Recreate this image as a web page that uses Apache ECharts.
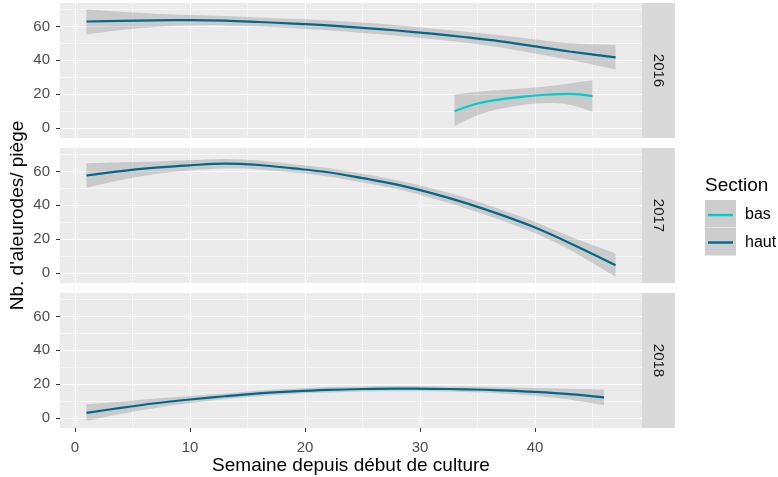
<!DOCTYPE html>
<html>
<head>
<meta charset="utf-8">
<script src="https://cdn.jsdelivr.net/npm/echarts@6/dist/echarts.min.js"></script>
<style>
  html, body { margin: 0; padding: 0; background: #ffffff; }
  #chart { width: 778px; height: 477px; }
</style>
</head>
<body>
<div id="chart"></div>
<script>
// Weeks at which the smoothed curves are sampled
const weeksLong = [1, 4, 7, 10, 13, 16, 19, 22, 25, 28, 31, 34, 37, 40, 43, 47];
const weeks2018 = [1, 4, 7, 10, 13, 16, 19, 22, 25, 28, 31, 34, 37, 40, 43, 46];
const weeksBas = [33, 35, 37, 39, 41, 43, 45];

// 2016 - haut
const haut2016 = [62.9, 63.3, 63.6, 63.7, 63.4, 62.6, 61.7, 60.6, 59.2, 57.6, 55.7, 53.6, 51.2, 48.2, 45.2, 41.7];
const haut2016Low = [55.3, 57.9, 59.7, 60.6, 60.6, 59.9, 58.9, 57.7, 56.1, 54.5, 52.6, 50.3, 47.6, 44.0, 40.3, 34.6];
const haut2016High = [70.2, 68.7, 67.5, 66.8, 66.2, 65.3, 64.5, 63.5, 62.3, 60.7, 58.8, 56.9, 54.8, 52.3, 50.1, 49.2];

// 2016 - bas
const bas2016 = [10.0, 14.5, 17.0, 18.6, 19.7, 20.2, 18.9];
const bas2016Low = [1.2, 7.6, 11.5, 13.8, 14.8, 13.8, 9.6];
const bas2016High = [19.8, 21.4, 22.5, 23.4, 24.6, 26.4, 28.2];

// 2017 - haut
const haut2017 = [57.6, 60.2, 62.2, 63.6, 64.6, 63.8, 61.8, 59.5, 56.0, 52.2, 47.2, 41.3, 34.5, 26.9, 17.8, 4.7];
const haut2017Low = [50.4, 55.0, 58.5, 60.6, 61.8, 61.2, 59.3, 57.0, 53.4, 49.6, 44.3, 38.2, 31.4, 23.5, 13.9, -2.2];
const haut2017High = [64.8, 65.4, 65.9, 66.6, 67.4, 66.4, 64.3, 62.0, 58.6, 54.8, 50.1, 44.4, 37.6, 30.3, 21.7, 11.6];

// 2018 - haut
const haut2018 = [3.1, 6.1, 8.8, 11.0, 12.9, 14.6, 15.8, 16.7, 17.2, 17.4, 17.3, 17.0, 16.4, 15.5, 14.2, 12.2];
const haut2018Low = [-1.6, 2.5, 6.0, 8.9, 11.2, 12.9, 14.3, 15.1, 15.7, 15.9, 15.8, 15.4, 14.6, 13.2, 11.0, 7.6];
const haut2018High = [8.2, 9.7, 11.6, 13.1, 14.6, 16.3, 17.4, 18.3, 18.7, 18.9, 18.8, 18.6, 18.2, 17.8, 17.4, 16.9];

// Facets, legend entries and tick labels
const years = ['2016', '2017', '2018'];
const sections = ['bas', 'haut'];
const yTicks = [0, 20, 40, 60];
const xTicks = [0, 10, 20, 30, 40];

const COLORS = { bas: '#00CDCD', haut: '#00688B' };
const RIBBON = 'rgba(153,153,153,0.4)';
const FONT = '"Liberation Sans", Arial, sans-serif';

// Panel geometry
const PANEL_LEFT = 60, PANEL_W = 582, PANEL_H = 135, STRIP_W = 33;
const PANEL_TOPS = [3, 148, 293];

// Curves per facet
const facets = [
  [
    { name: 'haut', x: weeksLong, y: haut2016, lo: haut2016Low, hi: haut2016High },
    { name: 'bas', x: weeksBas, y: bas2016, lo: bas2016Low, hi: bas2016High }
  ],
  [ { name: 'haut', x: weeksLong, y: haut2017, lo: haut2017Low, hi: haut2017High } ],
  [ { name: 'haut', x: weeks2018, y: haut2018, lo: haut2018Low, hi: haut2018High } ]
];

// Shared scales expanded by 5% on each side
const allX = [].concat(weeksLong, weeks2018, weeksBas);
const allY = [].concat(haut2016Low, haut2016High, bas2016Low, bas2016High,
  haut2017Low, haut2017High, haut2018Low, haut2018High);
const xMin0 = Math.min(...allX), xMax0 = Math.max(...allX);
const yMin0 = Math.min(...allY), yMax0 = Math.max(...allY);
const xPad = (xMax0 - xMin0) * 0.05, yPad = (yMax0 - yMin0) * 0.05;
const X_MIN = xMin0 - xPad, X_MAX = xMax0 + xPad;
const Y_MIN = yMin0 - yPad, Y_MAX = yMax0 + yPad;

// Smooth path segments (Catmull-Rom as cubic Bezier) through pixel points
function splinePath(pts, moveFirst) {
  let d = (moveFirst ? 'M' : 'L') + pts[0][0] + ' ' + pts[0][1];
  for (let i = 0; i < pts.length - 1; i++) {
    const p0 = pts[Math.max(i - 1, 0)], p1 = pts[i], p2 = pts[i + 1];
    const p3 = pts[Math.min(i + 2, pts.length - 1)];
    const c1x = p1[0] + (p2[0] - p0[0]) / 6, c1y = p1[1] + (p2[1] - p0[1]) / 6;
    const c2x = p2[0] - (p3[0] - p1[0]) / 6, c2y = p2[1] - (p3[1] - p1[1]) / 6;
    d += 'C' + c1x + ' ' + c1y + ' ' + c2x + ' ' + c2y + ' ' + p2[0] + ' ' + p2[1];
  }
  return d;
}

const grids = [], xAxes = [], yAxes = [], series = [], graphics = [];

PANEL_TOPS.forEach((top, i) => {
  const isBottom = i === PANEL_TOPS.length - 1;
  grids.push({
    left: PANEL_LEFT, top: top, width: PANEL_W, height: PANEL_H,
    show: true, backgroundColor: '#EBEBEB', borderWidth: 0,
    containLabel: false, outerBoundsMode: 'none'
  });
  xAxes.push({
    type: 'value', gridIndex: i, min: X_MIN, max: X_MAX, splitNumber: 5,
    axisLine: { show: false, onZero: false },
    axisTick: { show: isBottom, length: 4, customValues: xTicks,
      lineStyle: { color: '#333333', width: 1 } },
    axisLabel: { show: isBottom, customValues: xTicks,
      color: '#4D4D4D', fontSize: 15, fontFamily: FONT, margin: 12 },
    splitLine: { show: true, lineStyle: { color: '#FFFFFF', width: 1.1 } },
    minorTick: { show: false, splitNumber: 2 },
    minorSplitLine: { show: true, lineStyle: { color: '#FFFFFF', width: 0.55 } },
    name: isBottom ? 'Semaine depuis début de culture' : '',
    nameLocation: 'middle', nameGap: 28,
    nameTextStyle: { color: '#000000', fontSize: 19, fontFamily: FONT }
  });
  yAxes.push({
    type: 'value', gridIndex: i, min: Y_MIN, max: Y_MAX, splitNumber: 4,
    axisLine: { show: false, onZero: false },
    axisTick: { show: true, length: 4, customValues: yTicks,
      lineStyle: { color: '#333333', width: 1 } },
    axisLabel: { customValues: yTicks,
      color: '#4D4D4D', fontSize: 15, fontFamily: FONT, margin: 10 },
    splitLine: { show: true, lineStyle: { color: '#FFFFFF', width: 1.1 } },
    minorTick: { show: false, splitNumber: 2 },
    minorSplitLine: { show: true, lineStyle: { color: '#FFFFFF', width: 0.55 } },
    name: i === 1 ? "Nb. d'aleurodes/ piège" : '',
    nameLocation: 'middle', nameGap: 33, nameRotate: 90, nameMoveOverlap: false,
    nameTextStyle: { color: '#000000', fontSize: 19, fontFamily: FONT }
  });

  // Confidence ribbons between the lower and upper bounds
  facets[i].forEach((c) => {
    series.push({
      type: 'custom', name: 'ribbon ' + c.name + ' ' + years[i],
      xAxisIndex: i, yAxisIndex: i, silent: true, z: 2,
      data: [[c.x[0], c.lo[0]]],
      renderItem: function (params, api) {
        const upper = c.x.map((w, j) => api.coord([w, c.hi[j]]));
        const lower = c.x.map((w, j) => api.coord([w, c.lo[j]])).reverse();
        const d = splinePath(upper, true) + splinePath(lower, false) + 'Z';
        return { type: 'path', shape: { pathData: d }, style: { fill: RIBBON } };
      }
    });
  });
  // Fitted curves
  facets[i].forEach((c) => {
    series.push({
      type: 'line', name: c.name, xAxisIndex: i, yAxisIndex: i,
      smooth: 0.35, symbol: 'none', silent: true, z: 3,
      color: COLORS[c.name],
      lineStyle: { color: COLORS[c.name], width: 2.2 },
      data: c.x.map((w, j) => [w, c.y[j]])
    });
  });

  // Facet strip on the right
  graphics.push({
    type: 'rect', silent: true,
    shape: { x: PANEL_LEFT + PANEL_W, y: top, width: STRIP_W, height: PANEL_H },
    style: { fill: '#D9D9D9' }
  });
  graphics.push({
    type: 'text', silent: true,
    x: PANEL_LEFT + PANEL_W + STRIP_W / 2, y: top + PANEL_H / 2,
    rotation: -Math.PI / 2,
    style: { text: years[i], fill: '#1A1A1A', font: '15px ' + FONT,
      align: 'center', verticalAlign: 'middle' }
  });
});

// Legend title and key backgrounds
graphics.push({
  type: 'text', silent: true, x: 705, y: 186,
  style: { text: 'Section', fill: '#000000', font: '19px ' + FONT,
    align: 'left', verticalAlign: 'middle' }
});
sections.forEach((s, k) => {
  graphics.push({
    type: 'rect', silent: true,
    shape: { x: 705, y: 200 + k * 28, width: 31, height: 27.5 },
    style: { fill: '#CDCDCD' }
  });
});

const option = {
  animation: false,
  backgroundColor: '#ffffff',
  grid: grids,
  xAxis: xAxes,
  yAxis: yAxes,
  series: series,
  legend: {
    data: sections, orient: 'vertical', left: 708, top: 206, padding: 0,
    icon: 'rect', itemWidth: 25, itemHeight: 2.4, itemGap: 9.5,
    selectedMode: false,
    textStyle: { color: '#000000', fontSize: 16, fontFamily: FONT,
      lineHeight: 18, padding: [0, 0, 0, 7] }
  },
  graphic: graphics
};

const chart = echarts.init(document.getElementById('chart'), null, { renderer: 'canvas' });
chart.setOption(option);
</script>
</body>
</html>
